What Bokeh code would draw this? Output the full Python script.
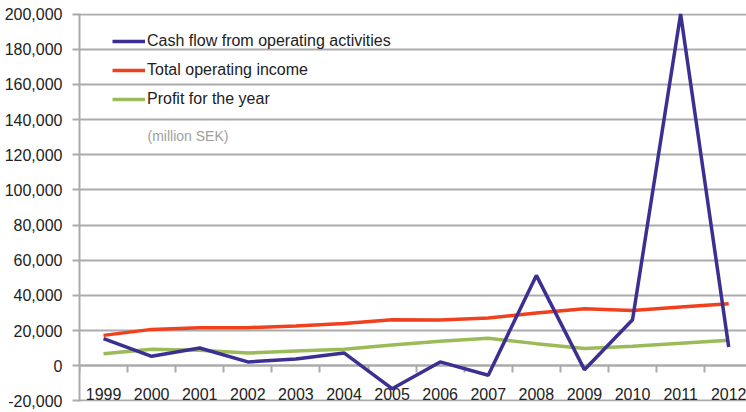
from bokeh.plotting import figure
from bokeh.models import (FixedTicker, NumeralTickFormatter, Legend, LegendItem,
                          Label, Range1d, ColumnDataSource)
from bokeh.embed import file_html
from bokeh.resources import INLINE

years = ["1999", "2000", "2001", "2002", "2003", "2004", "2005",
         "2006", "2007", "2008", "2009", "2010", "2011", "2012"]
cash_flow = [15500, 5400, 10100, 2200, 3900, 7300, -13000,
             2200, -5400, 51400, -2200, 26200, 200000, 10700]
operating_income = [17300, 20700, 21700, 21700, 22600, 24000, 26200,
                    26000, 27200, 30000, 32500, 31500, 33400, 35300]
profit = [6900, 9400, 8800, 7300, 8400, 9400, 11800,
          13900, 15600, 12600, 9800, 11100, 12800, 14500]
y_ticks = list(range(-20000, 200001, 20000))

FONT = "Liberation Sans"
GRID = "#ababab"

idx = list(range(len(years)))
src = ColumnDataSource(dict(x=idx, cash=cash_flow, inc=operating_income, prof=profit))

p = figure(width=746, height=412, output_backend="svg", toolbar_location=None,
           x_range=Range1d(-0.5, 13.37), y_range=Range1d(-20300, 200300),
           min_border_left=79, min_border_right=0, min_border_top=13, min_border_bottom=11)
p.outline_line_color = None
p.background_fill_color = "white"
p.border_fill_color = "white"

# y axis
p.yaxis.ticker = FixedTicker(ticks=y_ticks)
p.yaxis.formatter = NumeralTickFormatter(format="0,0")
p.yaxis.axis_line_color = GRID
p.yaxis.axis_line_width = 2
p.yaxis.major_tick_line_color = GRID
p.yaxis.major_tick_line_width = 2
p.yaxis.major_tick_out = 7
p.yaxis.major_tick_in = 0
p.yaxis.minor_tick_line_color = None
p.yaxis.major_label_standoff = 10
p.yaxis.major_label_text_font = FONT
p.yaxis.major_label_text_font_size = "16px"
p.yaxis.major_label_text_color = "#222222"

# x axis at y=0, ticks between categories
p.xaxis.fixed_location = 0
p.xaxis.ticker = FixedTicker(ticks=idx, minor_ticks=[i + 0.5 for i in range(-1, 13)])
p.xaxis.major_label_overrides = {i: y for i, y in zip(idx, years)}
p.xaxis.axis_line_color = GRID
p.xaxis.axis_line_width = 2
p.xaxis.major_tick_line_color = None
p.xaxis.major_tick_out = 0
p.xaxis.major_tick_in = 0
p.xaxis.minor_tick_line_color = GRID
p.xaxis.minor_tick_line_width = 2
p.xaxis.minor_tick_out = 7
p.xaxis.minor_tick_in = 0
p.xaxis.major_label_standoff = 15
p.xaxis.major_label_text_font = FONT
p.xaxis.major_label_text_font_size = "16px"
p.xaxis.major_label_text_color = "#222222"

p.xgrid.grid_line_color = None
p.ygrid.ticker = FixedTicker(ticks=y_ticks)
p.ygrid.grid_line_color = GRID
p.ygrid.grid_line_width = 2

r_prof = p.line("x", "prof", source=src, line_color="#9bbb59", line_width=3.5, level="overlay")
r_inc = p.line("x", "inc", source=src, line_color="#f0401e", line_width=3.5, level="overlay")
r_cash = p.line("x", "cash", source=src, line_color="#3b2f91", line_width=3.5, level="overlay")

legend = Legend(items=[
    LegendItem(label="Cash flow from operating activities", renderers=[r_cash]),
    LegendItem(label="Total operating income", renderers=[r_inc]),
    LegendItem(label="Profit for the year", renderers=[r_prof]),
], location=(33, 292))
legend.padding = 0
legend.margin = 0
legend.spacing = 9
legend.glyph_width = 33
legend.glyph_height = 20
legend.label_height = 20
legend.label_standoff = 2
legend.label_text_font = FONT
legend.label_text_font_size = "16px"
legend.label_text_color = "#222222"
legend.background_fill_alpha = 0
legend.border_line_color = None
p.add_layout(legend)

note = Label(x=0.915, y=130400, text="(million SEK)", text_font=FONT,
             text_font_size="14px", text_color="#a0a0a0", text_baseline="middle")
p.add_layout(note)

open("out.html", "w").write(file_html(p, INLINE))
